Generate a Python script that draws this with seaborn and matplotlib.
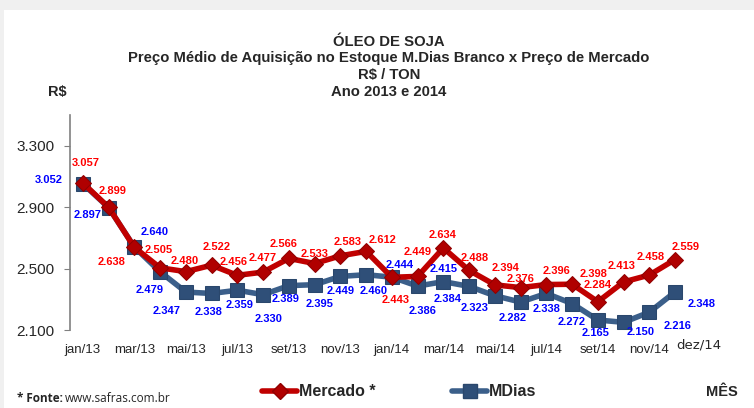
import matplotlib
matplotlib.use("Agg")
import matplotlib.pyplot as plt
from matplotlib.lines import Line2D
from matplotlib.patches import Rectangle
import pandas as pd
import seaborn as sns

months = ["jan/13", "fev/13", "mar/13", "abr/13", "mai/13", "jun/13", "jul/13", "ago/13",
          "set/13", "out/13", "nov/13", "dez/13", "jan/14", "fev/14", "mar/14", "abr/14",
          "mai/14", "jun/14", "jul/14", "ago/14", "set/14", "out/14", "nov/14", "dez/14"]
mercado = [3057, 2899, 2638, 2505, 2480, 2522, 2456, 2477, 2566, 2533, 2583, 2612,
           2443, 2449, 2634, 2488, 2394, 2376, 2396, 2398, 2284, 2413, 2458, 2559]
mdias = [3052, 2897, 2640, 2479, 2347, 2338, 2359, 2330, 2389, 2395, 2449, 2460,
         2444, 2386, 2415, 2384, 2323, 2282, 2338, 2272, 2165, 2150, 2216, 2348]
y_ticks = [2100, 2500, 2900, 3300]

# label offsets in pixels (dx, dy up positive)
red_off = [(3, 20), (4, 16), (-23, -15), (-1, 18), (-1, 11), (5, 18), (-4, 13), (0, 14),
           (-5, 14), (0, 10), (7, 14), (16, 11), (4, -23), (0, 24), (-1, 13), (6, 12),
           (11, 17), (0, 9), (10, 14), (21, 10), (0, 17), (-2, 16), (1, 18), (10, 13)]
blue_off = [(-34, 4), (-21, -7), (20, 15), (-11, -18), (-19, -19), (-3, -19), (2, -15), (5, -24),
            (-3, -13), (5, -19), (0, -15), (7, -16), (8, 12), (5, -25), (0, 13), (-22, -13),
            (-20, -12), (-8, -16), (0, -16), (0, -18), (-2, -13), (17, -10), (28, -14), (27, -12)]

df = pd.DataFrame({"x": range(len(months)), "Mercado *": mercado, "MDias": mdias})

sns.set_style("white")
plt.rcParams["font.family"] = ["Liberation Sans", "DejaVu Sans"]

fig = plt.figure(figsize=(7.54, 4.08), dpi=100)
fig.patch.set_facecolor("#f0f0f0")
fig.patches.append(Rectangle((4 / 754, 0), 1, 1 - 10 / 408, transform=fig.transFigure,
                             facecolor="white", edgecolor="none", zorder=-1))
ax = fig.add_axes([70 / 754, 1 - 330 / 408, 618 / 754, 215 / 408])
ax.set_facecolor("none")

red_line = "#c00000"
blue_line = "#3b5f8a"
sns.lineplot(data=df, x="x", y="MDias", ax=ax, color=blue_line, linewidth=4,
             marker="s", markersize=10, markerfacecolor="#2f4f78", markeredgecolor="#2a476c")
sns.lineplot(data=df, x="x", y="Mercado *", ax=ax, color=red_line, linewidth=4,
             marker="D", markersize=8, markerfacecolor="#b00000", markeredgecolor="#900000")

for i, v in enumerate(mercado):
    ax.annotate(f"{v/1000:.3f}", (i, v), xytext=red_off[i], textcoords="offset pixels",
                ha="center", va="center", color="#ff0000", fontsize=8, fontweight="bold")
for i, v in enumerate(mdias):
    ax.annotate(f"{v/1000:.3f}", (i, v), xytext=blue_off[i], textcoords="offset pixels",
                ha="center", va="center", color="#0000ff", fontsize=8, fontweight="bold")

ax.set_xlim(-0.5, 23.5)
ax.set_ylim(2100, 3500)
ax.set_yticks(y_ticks)
ax.set_yticklabels([f"{t/1000:.3f}" for t in y_ticks], fontsize=11)
ax.set_xticks(range(0, 24, 2))
ax.set_xticklabels(months[0:24:2], fontsize=9.5)
ax.tick_params(axis="y", length=4, color="#808080", direction="out", left=True, pad=7)
ax.tick_params(axis="x", length=0, pad=10)
ax.annotate(months[23], (23, 2100), xytext=(24, -15), textcoords="offset pixels",
            ha="center", va="center", fontsize=9.5, family="DejaVu Sans",
            annotation_clip=False)
ax.set_xlabel("")
ax.set_ylabel("")
for s in ["top", "right", "bottom"]:
    ax.spines[s].set_visible(False)
ax.spines["left"].set_color("#808080")
ax.spines["left"].set_linewidth(1.2)

titles = ["ÓLEO DE SOJA", "Preço Médio de Aquisição no Estoque M.Dias Branco x Preço de Mercado",
          "R$ / TON", "Ano 2013 e 2014"]
for k, t in enumerate(titles):
    fig.text(389 / 754, 1 - (41.5 + 16.7 * k) / 408, t, ha="center", va="center",
             fontsize=10.7, fontweight="bold")
fig.text(57 / 754, 1 - 92 / 408, "R$", ha="center", va="center", fontsize=10.5,
         fontweight="bold")

handles = [Line2D([], [], color=red_line, linewidth=4, marker="D", markersize=8,
                  markerfacecolor="#b00000", markeredgecolor="#900000"),
           Line2D([], [], color=blue_line, linewidth=4, marker="s", markersize=10,
                  markerfacecolor="#2f4f78", markeredgecolor="#2a476c")]
fig.legend(handles, ["Mercado *", "MDias"], loc="center", bbox_to_anchor=(399 / 754, 1 - 392 / 408),
           ncol=2, frameon=False, handlelength=2.2, handletextpad=0.1, columnspacing=4.8,
           prop={"weight": "bold", "size": 11.5})

fig.text(722 / 754, 1 - 392 / 408, "MÊS", ha="center", va="center", fontsize=10.5,
         fontweight="bold")
fig.text(17 / 754, 1 - 399 / 408, "* Fonte:", ha="left", va="center", fontsize=8.5,
         fontweight="bold", family=["Open Sans", "DejaVu Sans"])
fig.text(65 / 754, 1 - 399 / 408, "www.safras.com.br", ha="left", va="center", fontsize=8.5,
         family=["Open Sans", "DejaVu Sans"])

fig.savefig("out.png", dpi=100, facecolor=fig.get_facecolor())
